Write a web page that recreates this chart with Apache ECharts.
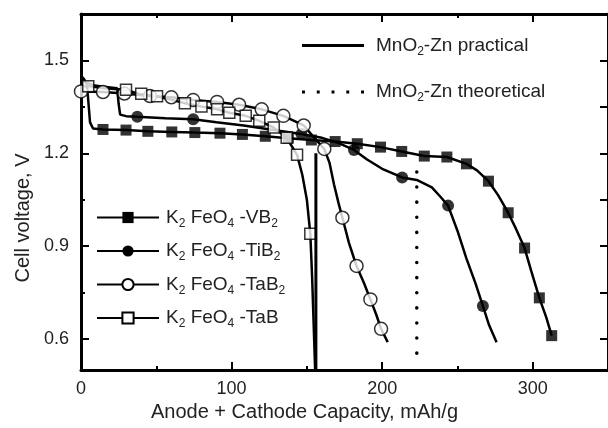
<!DOCTYPE html>
<html>
<head>
<meta charset="utf-8">
<script src="https://cdn.jsdelivr.net/npm/echarts@6/dist/echarts.min.js"></script>
<style>
  html, body { margin: 0; padding: 0; background: #fff; }
  #chart { width: 608px; height: 428px; }
</style>
</head>
<body>
<div id="chart"></div>
<script>
var FONT = '"Liberation Sans", Arial, sans-serif'

// discharge curves, points are [capacity mAh/g, cell voltage V]
var vb2Curve = [[0, 1.45], [2, 1.44], [4, 1.42], [5, 1.36], [6, 1.30], [8, 1.28], [14.6, 1.277], [29.9, 1.275],
  [44.4, 1.271], [60.3, 1.269], [75.6, 1.267], [92.3, 1.265], [107.2, 1.261], [122.4, 1.255], [137.7, 1.249],
  [153, 1.243], [168.8, 1.238], [183.5, 1.231], [198.9, 1.220], [213, 1.206], [228, 1.191], [243, 1.188],
  [256, 1.166], [263, 1.145], [270.6, 1.110], [277, 1.065], [283.7, 1.008], [289, 0.955], [294.6, 0.894],
  [299, 0.82], [304.4, 0.733], [309, 0.67], [312.6, 0.611]]
var vb2Marks = [[14.6, 1.277], [29.9, 1.275], [44.4, 1.271], [60.3, 1.269], [75.6, 1.267], [92.3, 1.265],
  [107.2, 1.261], [122.4, 1.255], [137.7, 1.249], [153, 1.243], [168.8, 1.238], [183.5, 1.231], [198.9, 1.220],
  [213, 1.206], [228, 1.191], [243, 1.188], [256, 1.166], [270.6, 1.110], [283.7, 1.008], [294.6, 0.894],
  [304.4, 0.733], [312.6, 0.611]]

var tib2Curve = [[0, 1.45], [3, 1.43], [8, 1.42], [15, 1.415], [24, 1.41], [25, 1.36], [26, 1.325], [30, 1.32],
  [37.4, 1.318], [56, 1.313], [74.5, 1.31], [90, 1.30], [108, 1.29], [128, 1.275], [146.4, 1.262], [160, 1.25],
  [170, 1.235], [181.3, 1.211], [190, 1.18], [200, 1.15], [213.3, 1.122], [223, 1.114], [233, 1.09],
  [239, 1.058], [243.8, 1.031], [250, 0.95], [256, 0.86], [262, 0.78], [266.9, 0.707], [271, 0.645], [276, 0.59]]
var tib2Marks = [[37.4, 1.318], [74.5, 1.31], [146.4, 1.262], [181.3, 1.211], [213.3, 1.122], [243.8, 1.031],
  [266.9, 0.707]]

var tab2Curve = [[0, 1.40], [14.6, 1.398], [28.8, 1.393], [45.8, 1.385], [60, 1.381], [74.5, 1.372],
  [90.4, 1.366], [105, 1.357], [120, 1.342], [134.4, 1.321], [147.9, 1.29], [155, 1.25], [161.6, 1.214],
  [165, 1.17], [168, 1.10], [171, 1.04], [173.6, 0.992], [178, 0.91], [183, 0.836], [188, 0.78], [192.2, 0.728],
  [196, 0.68], [199.3, 0.633], [203.7, 0.59]]
var tab2Marks = [[0, 1.40], [14.6, 1.398], [28.8, 1.393], [45.8, 1.385], [60, 1.381], [74.5, 1.372],
  [90.4, 1.366], [105, 1.357], [120, 1.342], [134.4, 1.321], [147.9, 1.29], [161.6, 1.214], [173.6, 0.992],
  [183, 0.836], [192.2, 0.728], [199.3, 0.633]]

var tabCurve = [[0, 1.41], [4.8, 1.417], [15, 1.41], [29.9, 1.405], [38.6, 1.392], [50.5, 1.384], [69, 1.362],
  [80, 1.351], [90.4, 1.342], [98.5, 1.331], [109.4, 1.321], [118.4, 1.305], [128, 1.283], [136.6, 1.25],
  [143.5, 1.195], [147, 1.13], [150, 1.05], [152.3, 0.94], [153.5, 0.8], [154.5, 0.65], [155.5, 0.5]]
var tabMarks = [[4.8, 1.417], [29.9, 1.405], [40, 1.392], [50.5, 1.384], [69, 1.362], [80, 1.351],
  [90.4, 1.342], [98.5, 1.331], [109.4, 1.321], [118.4, 1.305], [128, 1.283], [136.6, 1.25], [143.5, 1.195],
  [152.3, 0.94]]

// MnO2-Zn reference lines
var practicalLine = [[156, 1.2], [156, 0.5]]
var theoreticalLine = [[223, 1.14], [223, 0.54]]

var xLabelTicks = [0, 100, 200, 300]
var xMinorTicks = [50, 150, 250]
var yLabelTicks = [0.6, 0.9, 1.2, 1.5]
var yMinorTicks = [0.75, 1.05, 1.35]
var yAllTicks = [0.6, 0.75, 0.9, 1.05, 1.2, 1.35, 1.5]

var names = ['K2 FeO4 -VB2', 'K2 FeO4 -TiB2', 'K2 FeO4 -TaB2', 'K2 FeO4 -TaB', 'MnO2-Zn practical', 'MnO2-Zn theoretical']
var richNames = {
  'K2 FeO4 -VB2': '{n|K}{s|2}{n| FeO}{s|4}{n| -VB}{s|2}',
  'K2 FeO4 -TiB2': '{n|K}{s|2}{n| FeO}{s|4}{n| -TiB}{s|2}',
  'K2 FeO4 -TaB2': '{n|K}{s|2}{n| FeO}{s|4}{n| -TaB}{s|2}',
  'K2 FeO4 -TaB': '{n|K}{s|2}{n| FeO}{s|4}{n| -TaB}',
  'MnO2-Zn practical': '{n|MnO}{s|2}{n|-Zn practical}',
  'MnO2-Zn theoretical': '{n|MnO}{s|2}{n|-Zn theoretical}'
}

// subscript: the top padding pushes the small digit down
var rich = {
  n: { fontFamily: FONT, fontSize: 19, color: '#222' },
  s: { fontFamily: FONT, fontSize: 12, color: '#222', padding: [12, 0, 0, 0] }
}

function curve (name, data, symbol) {
  return {
    name: name, type: 'line', data: data, symbol: symbol, symbolSize: 12, showSymbol: false,
    lineStyle: { color: '#000', width: 2.5 }, itemStyle: { color: '#000' }, z: 2
  }
}
function marks (data, symbol, size, hollow) {
  return {
    type: 'scatter', data: data, symbol: symbol, symbolSize: size, z: 3,
    itemStyle: hollow ? { color: '#fff', borderColor: '#000', borderWidth: 1.5 } : { color: '#000' }
  }
}

var axisLine = { show: true, onZero: false, lineStyle: { color: '#000', width: 3 } }
var tickStyle = { color: '#000', width: 2 }
function bare (pos, min, max, ticks, len, showLine) {
  return {
    type: 'value', position: pos, min: min, max: max,
    axisLine: showLine ? axisLine : { show: false },
    axisTick: { show: true, inside: true, length: len, customValues: ticks, lineStyle: tickStyle },
    axisLabel: { show: false }, splitLine: { show: false }
  }
}

var chart = echarts.init(document.getElementById('chart'))
chart.setOption({
  animation: false,
  grid: { left: 81, right: -9, top: 14, bottom: 58 },
  legend: [{
    data: [
      { name: names[4], icon: 'path://M0 0H63V3H0Z' },
      { name: names[5], icon: 'path://M0 0h3v3H0z M15 0h3v3h-3z M30 0h3v3h-3z M45 0h3v3h-3z M60 0h3v3h-3z' }
    ],
    orient: 'vertical', left: 302, top: 36, padding: 0, itemWidth: 62, itemHeight: 14, itemGap: 25,
    formatter: function (n) { return richNames[n] },
    textStyle: { fontFamily: FONT, fontSize: 19, color: '#222', padding: [0, 0, 0, 7], rich: rich }
  }, {
    data: names.slice(0, 4),
    orient: 'vertical', left: 96, top: 208, padding: 0, itemWidth: 62, itemHeight: 14, itemGap: 12,
    formatter: function (n) { return richNames[n] },
    textStyle: { fontFamily: FONT, fontSize: 19, color: '#222', padding: [0, 0, 0, 2], rich: rich }
  }],
  xAxis: [{
    type: 'value', position: 'bottom', min: 0, max: 350,
    axisLine: axisLine,
    axisTick: { show: true, inside: true, length: 8, customValues: xLabelTicks, lineStyle: tickStyle },
    axisLabel: { customValues: xLabelTicks, fontFamily: FONT, fontSize: 18, color: '#222', margin: 10 },
    splitLine: { show: false },
    name: 'Anode + Cathode Capacity, mAh/g', nameLocation: 'middle', nameGap: 29,
    nameTextStyle: { fontFamily: FONT, fontSize: 20, color: '#222', padding: [0, 80, 0, 0] }
  },
  bare('bottom', 0, 350, xMinorTicks, 4, false),
  bare('top', 0, 350, xLabelTicks, 8, true),
  bare('top', 0, 350, xMinorTicks, 4, false)],
  yAxis: [{
    type: 'value', position: 'left', min: 0.5, max: 1.65,
    axisLine: axisLine,
    axisTick: { show: true, inside: true, length: 8, customValues: yLabelTicks, lineStyle: tickStyle },
    axisLabel: { customValues: yLabelTicks, fontFamily: FONT, fontSize: 18, color: '#222', margin: 12,
      formatter: function (v) { return v.toFixed(1) } },
    splitLine: { show: false },
    name: 'Cell voltage, V', nameLocation: 'middle', nameGap: 48,
    nameTextStyle: { fontFamily: FONT, fontSize: 20, color: '#222', padding: [0, 52, 0, 0] }
  },
  bare('left', 0.5, 1.65, yMinorTicks, 4, false),
  bare('right', 0.5, 1.65, yAllTicks, 8, true)],
  series: [
    curve(names[0], vb2Curve, 'rect'),
    curve(names[1], tib2Curve, 'circle'),
    curve(names[2], tab2Curve, 'emptyCircle'),
    curve(names[3], tabCurve, 'emptyRect'),
    marks(vb2Marks, 'rect', 11, false),
    marks(tib2Marks, 'circle', 12, false),
    marks(tab2Marks, 'circle', 13, true),
    marks(tabMarks, 'rect', 11, true),
    {
      name: names[4], type: 'line', data: practicalLine, symbol: 'none',
      lineStyle: { color: '#000', width: 3 }, itemStyle: { color: '#000' }, z: 4
    },
    {
      name: names[5], type: 'line', data: theoreticalLine, symbol: 'none',
      lineStyle: { color: '#000', width: 3.5, type: [0.1, 15], cap: 'round' }, itemStyle: { color: '#000' }
    }
  ]
})
</script>
</body>
</html>
